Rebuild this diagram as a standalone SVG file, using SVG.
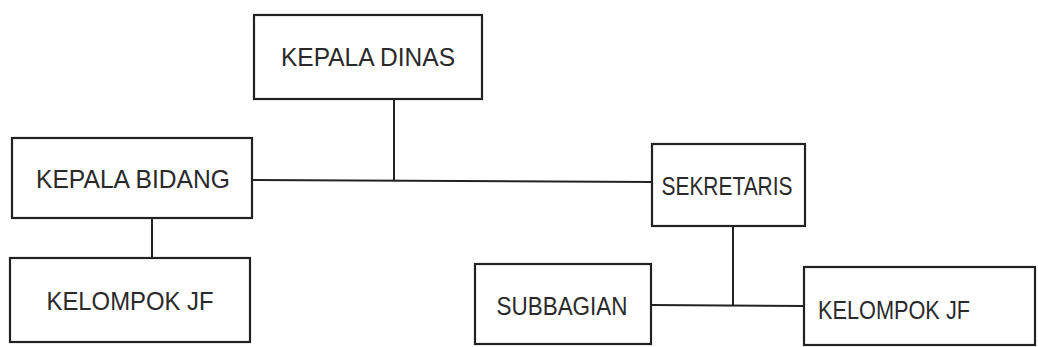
<svg xmlns="http://www.w3.org/2000/svg" width="1038" height="347" viewBox="0 0 1038 347">
<style>
.box{fill:#fff;stroke:#222;stroke-width:2.2}
.lbl{font-family:"Liberation Sans",Arial,sans-serif;font-size:25px;fill:#2a2a2a;text-anchor:middle;dominant-baseline:central}
.con{stroke:#222;stroke-width:2;fill:none}
</style>
<rect width="1038" height="347" fill="#fff"/>
<g id="connectors">
<line class="con" x1="394" y1="99" x2="394" y2="181"/>
<line class="con" x1="252" y1="180" x2="652" y2="182"/>
<line class="con" x1="152" y1="218" x2="152" y2="258"/>
<line class="con" x1="733" y1="226" x2="733" y2="306"/>
<line class="con" x1="651" y1="305" x2="804" y2="306"/>
</g>
<g id="kepala-dinas"><rect class="box" x="254" y="15" width="228" height="84"/><text class="lbl" x="368" y="57" textLength="174" lengthAdjust="spacingAndGlyphs">KEPALA DINAS</text></g>
<g id="kepala-bidang"><rect class="box" x="12" y="138" width="240" height="80"/><text class="lbl" x="133" y="179" textLength="194" lengthAdjust="spacingAndGlyphs">KEPALA BIDANG</text></g>
<g id="kelompok-jf-1"><rect class="box" x="10" y="258" width="240" height="84"/><text class="lbl" x="130" y="301" textLength="167" lengthAdjust="spacingAndGlyphs">KELOMPOK JF</text></g>
<g id="sekretaris"><rect class="box" x="652" y="144" width="153" height="82"/><text class="lbl" x="727" y="186" textLength="131" lengthAdjust="spacingAndGlyphs">SEKRETARIS</text></g>
<g id="subbagian"><rect class="box" x="475" y="264" width="176" height="80"/><text class="lbl" x="562" y="306" textLength="131" lengthAdjust="spacingAndGlyphs">SUBBAGIAN</text></g>
<g id="kelompok-jf-2"><rect class="box" x="804" y="267" width="231" height="78"/><text class="lbl" x="894" y="310" textLength="152" lengthAdjust="spacingAndGlyphs">KELOMPOK JF</text></g>
</svg>
